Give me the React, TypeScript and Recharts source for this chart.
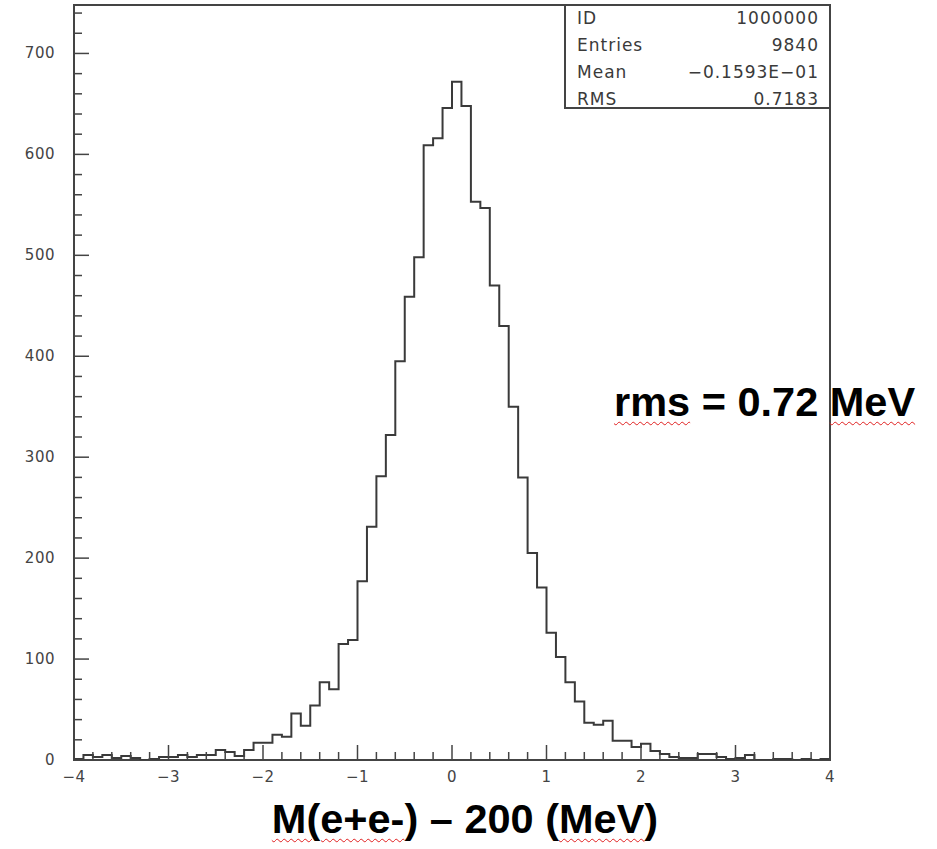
import { LineChart, Line, XAxis, YAxis, ReferenceArea } from 'recharts';

// left edge of each 0.1-wide bin
const BIN_EDGES = [
  -4.0, -3.9, -3.8, -3.7, -3.6, -3.5, -3.4, -3.3, -3.2, -3.1,
  -3.0, -2.9, -2.8, -2.7, -2.6, -2.5, -2.4, -2.3, -2.2, -2.1,
  -2.0, -1.9, -1.8, -1.7, -1.6, -1.5, -1.4, -1.3, -1.2, -1.1,
  -1.0, -0.9, -0.8, -0.7, -0.6, -0.5, -0.4, -0.3, -0.2, -0.1,
  0.0, 0.1, 0.2, 0.3, 0.4, 0.5, 0.6, 0.7, 0.8, 0.9,
  1.0, 1.1, 1.2, 1.3, 1.4, 1.5, 1.6, 1.7, 1.8, 1.9,
  2.0, 2.1, 2.2, 2.3, 2.4, 2.5, 2.6, 2.7, 2.8, 2.9,
  3.0, 3.1, 3.2, 3.3, 3.4, 3.5, 3.6, 3.7, 3.8, 3.9,
];
const LAST_EDGE = 4.0;

const COUNTS = [
  1, 5, 3, 5, 2, 4, 2, 0, 1, 3,
  3, 5, 3, 5, 5, 10, 8, 4, 10, 17,
  17, 25, 23, 46, 34, 54, 77, 70, 115, 119,
  177, 231, 281, 322, 395, 459, 498, 609, 616, 646,
  672, 648, 553, 547, 470, 430, 350, 280, 205, 171,
  126, 102, 77, 58, 37, 35, 39, 19, 19, 13,
  16, 9, 6, 3, 2, 2, 6, 6, 3, 1,
  2, 5, 0, 0, 1, 1, 0, 1, 0, 1,
];

const X_TICKS = [
  -4, -3.8, -3.6, -3.4, -3.2, -3, -2.8, -2.6, -2.4, -2.2,
  -2, -1.8, -1.6, -1.4, -1.2, -1, -0.8, -0.6, -0.4, -0.2,
  0, 0.2, 0.4, 0.6, 0.8, 1, 1.2, 1.4, 1.6, 1.8,
  2, 2.2, 2.4, 2.6, 2.8, 3, 3.2, 3.4, 3.6, 3.8, 4,
];
const X_LABELS = [-4, -3, -2, -1, 0, 1, 2, 3, 4];

const Y_TICKS = [
  0, 20, 40, 60, 80, 100, 120, 140, 160, 180,
  200, 220, 240, 260, 280, 300, 320, 340, 360, 380,
  400, 420, 440, 460, 480, 500, 520, 540, 560, 580,
  600, 620, 640, 660, 680, 700, 720, 740,
];
const Y_LABELS = [0, 100, 200, 300, 400, 500, 600, 700];

const STATS = [
  { name: 'ID', value: '1000000' },
  { name: 'Entries', value: '9840' },
  { name: 'Mean', value: '\u22120.1593E\u221201' },
  { name: 'RMS', value: '0.7183' },
];

const AXIS_COLOR = '#444';
const TICK_FONT = { fontFamily: 'DejaVu Sans', fontSize: 15, fill: '#444', letterSpacing: 0.5 };
const BIG_FONT = {
  fontFamily: '"Liberation Sans", Arial, sans-serif',
  fontWeight: 700,
  fontSize: 41.5,
  lineHeight: '41.5px',
  color: '#000',
  whiteSpace: 'nowrap' as const,
};
const SQUIGGLE = {
  textDecoration: 'underline wavy #e02020',
  textUnderlineOffset: 5,
  textDecorationThickness: 1,
};

const fmt = (v: number) => (v < 0 ? '\u2212' + Math.abs(v) : String(v));

function XTick(props: any) {
  const { x, y, payload } = props;
  const major = X_LABELS.includes(payload.value);
  return (
    <g>
      <line x1={x} y1={y} x2={x} y2={y - (major ? 15 : 8)} stroke={AXIS_COLOR} strokeWidth={1.5} />
      {major && (
        <text x={x} y={y + 22} textAnchor="middle" {...TICK_FONT}>
          {fmt(payload.value)}
        </text>
      )}
    </g>
  );
}

function YTick(props: any) {
  const { x, y, payload } = props;
  const major = Y_LABELS.includes(payload.value);
  return (
    <g>
      <line x1={x} y1={y} x2={x + (major ? 15 : 8)} y2={y} stroke={AXIS_COLOR} strokeWidth={1.5} />
      {major && (
        <text x={x - 19} y={y + 5} textAnchor="end" {...TICK_FONT}>
          {payload.value}
        </text>
      )}
    </g>
  );
}

export default function App() {
  const data = BIN_EDGES.map((x, i) => ({ x, count: COUNTS[i] }));
  data.push({ x: LAST_EDGE, count: COUNTS[COUNTS.length - 1] });

  return (
    <div style={{ position: 'absolute', left: 0, top: 0, width: 937, height: 849, background: '#fff' }}>
      <LineChart width={937} height={849} data={data} margin={{ top: 5, right: 107, bottom: 0, left: 0 }}>
        <XAxis
          type="number"
          dataKey="x"
          domain={[-4, 4]}
          ticks={X_TICKS}
          interval={0}
          height={89}
          axisLine={false}
          tickLine={false}
          tickSize={0}
          tickMargin={0}
          tick={<XTick />}
          allowDataOverflow
        />
        <YAxis
          type="number"
          domain={[0, 748]}
          ticks={Y_TICKS}
          interval={0}
          width={74}
          axisLine={false}
          tickLine={false}
          tickSize={0}
          tickMargin={0}
          tick={<YTick />}
          allowDataOverflow
        />
        <ReferenceArea x1={-4} x2={4} y1={0} y2={748} stroke={AXIS_COLOR} strokeWidth={2} fill="none" fillOpacity={0} />
        <Line
          type="stepAfter"
          dataKey="count"
          stroke="#3a3a3a"
          strokeWidth={2}
          dot={false}
          isAnimationActive={false}
        />
      </LineChart>

      {/* statistics box */}
      <svg width={937} height={849} style={{ position: 'absolute', left: 0, top: 0, pointerEvents: 'none' }}>
        <rect x={565} y={5} width={265} height={103} fill="#fff" stroke={AXIS_COLOR} strokeWidth={2} />
        {STATS.map((s, i) => (
          <g key={s.name} fontFamily="DejaVu Sans" fontSize={17} fill="#3a3a3a" letterSpacing={1}>
            <text x={577} y={24 + i * 27}>{s.name}</text>
            <text x={819} y={24 + i * 27} textAnchor="end">{s.value}</text>
          </g>
        ))}
      </svg>

      <div style={{ ...BIG_FONT, position: 'absolute', left: 614, top: 381 }}>
        <span style={SQUIGGLE}>rms</span> = 0.72 <span style={SQUIGGLE}>MeV</span>
      </div>

      <div style={{ ...BIG_FONT, position: 'absolute', left: 265, width: 400, top: 798, textAlign: 'center' }}>
        <span style={SQUIGGLE}>M(e+e-</span>) – 200 (<span style={SQUIGGLE}>MeV</span>)
      </div>
    </div>
  );
}
